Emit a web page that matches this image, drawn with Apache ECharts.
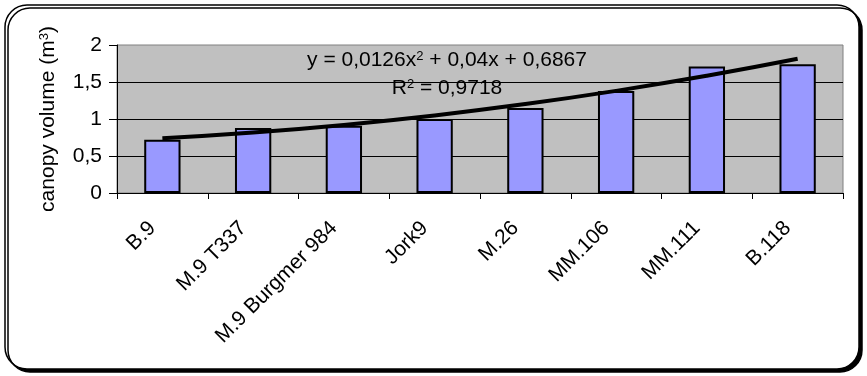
<!DOCTYPE html>
<html>
<head>
<meta charset="utf-8">
<script src="https://cdn.jsdelivr.net/npm/echarts@6/dist/echarts.min.js"></script>
<style>
  html, body { margin: 0; padding: 0; background: #ffffff; }
  #chart { width: 867px; height: 376px; }
</style>
</head>
<body>
<div id="chart"></div>
<script>
// Rootstock names along the x axis
const categories = ['B.9', 'M.9 T337', 'M.9 Burgmer 984', 'Jork9', 'M.26', 'MM.106', 'MM.111', 'B.118'];
// Canopy volume per rootstock (m³)
const canopyVolume = [0.72, 0.88, 0.91, 1.0, 1.15, 1.38, 1.71, 1.74];
// Polynomial trend line: y = a·x² + b·x + c, x = 1..8
const trendCoef = [0.0126, 0.04, 0.6867];
const trendR2 = 0.9718;
// Value axis ticks
const yTicks = [0, 0.5, 1, 1.5, 2];

const trendValues = categories.map((_, i) => {
  const x = i + 1;
  return trendCoef[0] * x * x + trendCoef[1] * x + trendCoef[2];
});

const fmt = v => String(v).replace('.', ',');
const font = '"Liberation Sans", Arial, sans-serif';
const supStyle = { fontSize: 13, verticalAlign: 'top', fontFamily: font, fill: '#000000', color: '#000000' };

const chart = echarts.init(document.getElementById('chart'));
chart.setOption({
  animation: false,
  backgroundColor: '#ffffff',
  textStyle: { fontFamily: font },
  grid: {
    left: 117, right: 24, top: 45, bottom: 183,
    show: true, backgroundColor: '#c0c0c0', borderColor: '#808080', borderWidth: 1
  },
  graphic: [
    {
      type: 'rect', z: -10, silent: true,
      shape: { x: 5, y: 5, width: 854, height: 364, r: 22 },
      style: {
        fill: '#ffffff', stroke: '#000000', lineWidth: 1.5,
        shadowColor: '#000000', shadowBlur: 0, shadowOffsetX: 3, shadowOffsetY: 3
      }
    },
    {
      type: 'text', z: 10, x: 447, y: 50, silent: true,
      style: {
        text: 'y = ' + fmt(trendCoef[0]) + 'x{sup|2} + ' + fmt(trendCoef[1]) + 'x + ' + fmt(trendCoef[2]),
        font: '21px ' + font, fill: '#000000', align: 'center', verticalAlign: 'top',
        rich: { sup: supStyle }
      }
    },
    {
      type: 'text', z: 10, x: 447, y: 78, silent: true,
      style: {
        text: 'R{sup|2} = ' + fmt(trendR2),
        font: '21px ' + font, fill: '#000000', align: 'center', verticalAlign: 'top',
        rich: { sup: supStyle }
      }
    }
  ],
  xAxis: {
    type: 'category',
    data: categories,
    boundaryGap: true,
    axisLine: { show: true, lineStyle: { color: '#000000', width: 1 } },
    axisTick: { show: true, alignWithLabel: false, length: 6, lineStyle: { color: '#000000' } },
    axisLabel: {
      interval: 0, rotate: 45, margin: 22, padding: [0, 14, 0, 0],
      fontSize: 21, color: '#000000', fontFamily: font
    },
    splitLine: { show: false }
  },
  yAxis: {
    type: 'value',
    min: yTicks[0], max: yTicks[yTicks.length - 1], interval: 0.5,
    axisLine: { show: true, lineStyle: { color: '#000000', width: 1 } },
    axisTick: { show: true, length: 8, lineStyle: { color: '#000000' } },
    axisLabel: {
      fontSize: 21, color: '#000000', margin: 15, fontFamily: font,
      formatter: v => fmt(v)
    },
    splitLine: { show: true, showMaxLine: false, lineStyle: { color: '#000000', width: 1 } },
    name: 'canopy volume (m{sup|3})',
    nameLocation: 'middle',
    nameGap: 58,
    nameTextStyle: {
      fontSize: 21, color: '#000000', fontFamily: font,
      rich: { sup: supStyle }
    }
  },
  series: [
    {
      type: 'bar',
      data: canopyVolume,
      barWidth: '40%',
      itemStyle: { color: '#9999ff', borderColor: '#000000', borderWidth: 2 },
      z: 2
    },
    {
      type: 'line',
      data: trendValues,
      smooth: true,
      symbol: 'none',
      lineStyle: { color: '#000000', width: 4 },
      z: 3
    }
  ]
});
</script>
</body>
</html>
